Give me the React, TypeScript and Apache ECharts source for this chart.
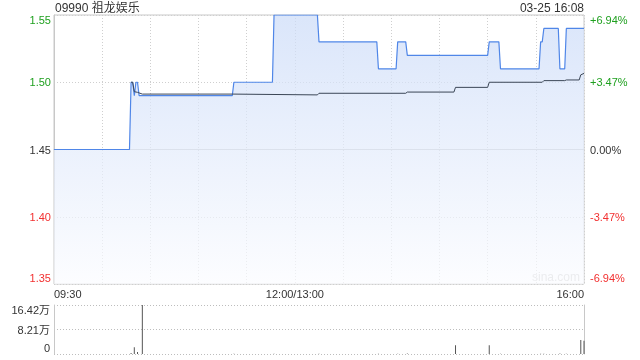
import React, { useEffect, useRef } from "react";
import * as echarts from "echarts";

const title = "09990 祖龙娱乐";
const stamp = "03-25 16:08";

// minute index from 09:30 (0) ... 12:00 (150) ... 16:00 (330)
const priceMinutes = [0, 47, 48, 49, 50, 51, 52, 53, 111, 112, 136, 137, 164, 165, 201, 202, 213, 214, 219, 220, 270, 271, 277, 278, 302, 303, 304, 305, 314, 315, 318, 319, 330];
const priceValues = [1.45, 1.45, 1.5, 1.5, 1.49, 1.5, 1.5, 1.49, 1.49, 1.5, 1.5, 1.55, 1.55, 1.53, 1.53, 1.51, 1.51, 1.53, 1.53, 1.52, 1.52, 1.53, 1.53, 1.51, 1.51, 1.53, 1.53, 1.54, 1.54, 1.51, 1.51, 1.54, 1.54];

const avgMinutes = [48, 49, 50, 52, 55, 111, 164, 165, 219, 220, 249, 250, 270, 271, 304, 305, 318, 319, 327, 328, 330];
const avgValues = [1.5, 1.5, 1.493, 1.4925, 1.4912, 1.4912, 1.4906, 1.4918, 1.4918, 1.4927, 1.4927, 1.4962, 1.4962, 1.5, 1.5, 1.5012, 1.5012, 1.5017, 1.5017, 1.5055, 1.5066];

const volMinutes = [48, 50, 52, 55, 112, 137, 165, 202, 214, 220, 250, 271, 278, 303, 305, 315, 319, 328, 330];
const volValues = [3000, 23000, 6500, 164200, 800, 800, 800, 600, 600, 1500, 29000, 29000, 700, 700, 900, 1500, 800, 47000, 44000];

const xLabels: Record<number, string> = { 0: "09:30", 150: "12:00/13:00", 330: "16:00" };
const priceTicks = [1.35, 1.4, 1.45, 1.5, 1.55];
const pctTicks = [-6.94, -3.47, 0, 3.47, 6.94];
const volMax = 164200;

const GREEN = "#1fa01f";
const RED = "#f23030";
const DARK = "#333333";
const FONT = "'Liberation Sans', Arial, 'Noto Sans CJK SC', sans-serif";

export default function App() {
  const ref = useRef<HTMLDivElement>(null);
  useEffect(() => {
    document.body.style.margin = "0";
    const chart = echarts.init(ref.current!, null, { renderer: "svg" });
    const price = priceMinutes.map((m, i) => [m, priceValues[i]]);
    const avg = avgMinutes.map((m, i) => [m, avgValues[i]]);
    const vol = volMinutes.map((m, i) => [m, volValues[i]]);

    const richBase = { fontSize: 11, fontFamily: FONT };
    const rich = {
      gT: { ...richBase, color: GREEN, padding: [10, 0, 0, 0] },
      g: { ...richBase, color: GREEN },
      k: { ...richBase, color: DARK },
      r: { ...richBase, color: RED },
      rB: { ...richBase, color: RED, padding: [0, 0, 12, 0] },
      kT: { ...richBase, color: DARK, padding: [10, 0, 0, 0] },
      kB: { ...richBase, color: DARK, padding: [0, 0, 12, 0] },
    };
    const styleFor = (sign: number, top: boolean, bottom: boolean) => {
      if (sign > 0) return top ? "gT" : "g";
      if (sign < 0) return bottom ? "rB" : "r";
      return "k";
    };

    const option: any = {
      animation: false,
      textStyle: { fontFamily: FONT },
      grid: [
        { left: 54, right: 56, top: 15, height: 269, show: true, borderColor: "#c8c8c8", borderWidth: 1 },
        { left: 54, right: 56, top: 305, height: 49 },
      ],
      xAxis: [
        {
          type: "value", gridIndex: 0, min: 0, max: 330, interval: 30,
          axisLine: { show: true, lineStyle: { color: "#c8c8c8" } },
          axisTick: { show: false },
          splitLine: { show: true, lineStyle: { color: "#cfcfcf", type: [1, 2] } },
          axisLabel: {
            margin: 4, fontSize: 11, color: DARK, fontFamily: FONT,
            alignMinLabel: "left", alignMaxLabel: "right",
            formatter: (v: number) => xLabels[Math.round(v)] ?? "",
          },
        },
        {
          type: "value", gridIndex: 1, min: 0, max: 330,
          axisLine: { show: false }, axisTick: { show: false }, axisLabel: { show: false }, splitLine: { show: false },
        },
      ],
      yAxis: [
        {
          type: "value", gridIndex: 0, min: priceTicks[0], max: priceTicks[priceTicks.length - 1], interval: 0.05,
          axisLine: { show: true, lineStyle: { color: "#c8c8c8" } },
          axisTick: { show: false },
          splitLine: { show: true, lineStyle: { color: "#cfcfcf", type: [1, 2] } },
          axisLabel: {
            margin: 3, rich,
            formatter: (v: number) => {
              const c = Math.round(v * 100);
              const sign = c > 145 ? 1 : c < 145 ? -1 : 0;
              return `{${styleFor(sign, c === 155, c === 135)}|${v.toFixed(2)}}`;
            },
          },
        },
        {
          type: "value", gridIndex: 0, position: "right", min: pctTicks[0], max: pctTicks[pctTicks.length - 1], interval: 3.47,
          axisLine: { show: false }, axisTick: { show: false }, splitLine: { show: false },
          axisLabel: {
            margin: 6, rich,
            formatter: (v: number) => {
              const c = Math.round(v * 100);
              const sign = c > 0 ? 1 : c < 0 ? -1 : 0;
              const txt = sign > 0 ? "+" + (c / 100).toFixed(2) + "%" : sign < 0 ? (c / 100).toFixed(2) + "%" : "0.00%";
              return `{${styleFor(sign, c === 694, c === -694)}|${txt}}`;
            },
          },
        },
        {
          type: "value", gridIndex: 1, min: 0, max: volMax, interval: volMax / 2,
          axisLine: { show: true, lineStyle: { color: "#c8c8c8" } },
          axisTick: { show: false },
          splitLine: { show: true, lineStyle: { color: "#bdbdbd", type: [1, 2] } },
          axisLabel: {
            margin: 4, rich,
            formatter: (v: number) => {
              if (v <= 0) return "{kB|0}";
              const t = (v / 10000).toFixed(2) + "万";
              return v >= volMax ? `{kT|${t}}` : `{k|${t}}`;
            },
          },
        },
        {
          type: "value", gridIndex: 1, position: "right", min: 0, max: volMax,
          axisLine: { show: true, lineStyle: { color: "#c8c8c8" } },
          axisTick: { show: false }, axisLabel: { show: false }, splitLine: { show: false },
        },
      ],
      series: [
        {
          type: "line", xAxisIndex: 0, yAxisIndex: 0, data: price, symbol: "none",
          lineStyle: { color: "#4f86e8", width: 1.2 },
          areaStyle: {
            color: new echarts.graphic.LinearGradient(0, 0, 0, 1, [
              { offset: 0, color: "#cbdbf8" },
              { offset: 1, color: "#fbfcff" },
            ]),
            origin: "start",
          },
          z: 2,
        },
        {
          type: "line", xAxisIndex: 0, yAxisIndex: 0, data: avg, symbol: "none",
          lineStyle: { color: "#3b4656", width: 1 }, z: 3,
        },
        {
          type: "bar", xAxisIndex: 1, yAxisIndex: 2, data: vol, barWidth: 1,
          itemStyle: { color: "#555555" },
        },
      ],
      graphic: [
        { type: "text", left: 55, top: 2, style: { text: title, fontSize: 12, fill: DARK, fontFamily: FONT } },
        { type: "text", right: 56, top: 2, style: { text: stamp, fontSize: 12, fill: DARK, fontFamily: FONT } },
        { type: "text", right: 60, top: 271, style: { text: "sina.com", fontSize: 12, fill: "#c8c8c8", fontFamily: FONT } },
      ],
    };
    chart.setOption(option);
    return () => chart.dispose();
  }, []);
  return <div ref={ref} style={{ position: "fixed", left: 0, top: 0, width: 640, height: 360 }} />;
}
